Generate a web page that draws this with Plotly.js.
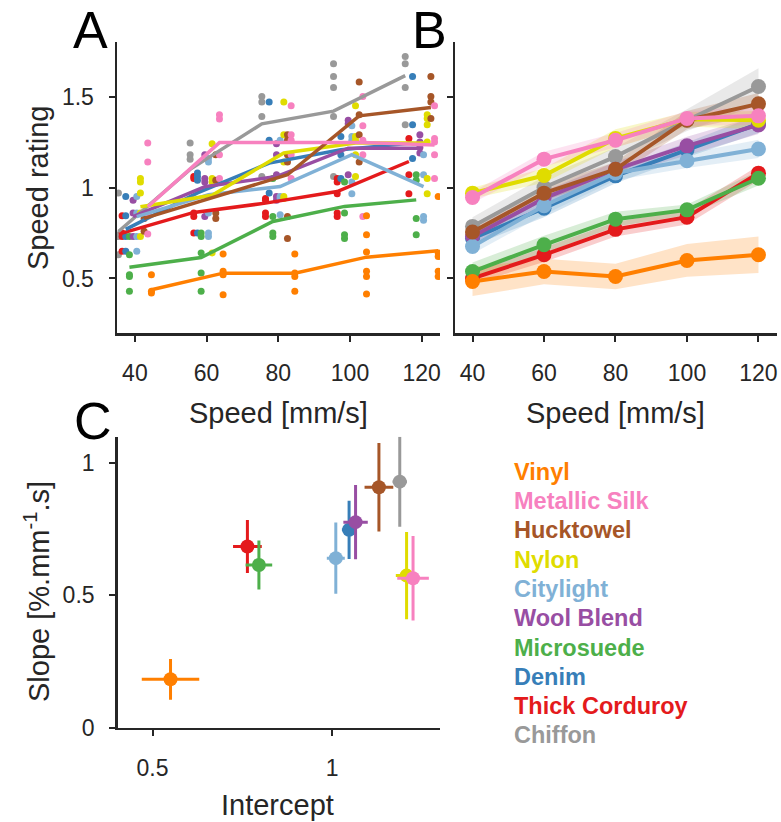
<!DOCTYPE html>
<html>
<head>
<meta charset="utf-8">
<script src="https://cdn.plot.ly/plotly-3.0.1.min.js"></script>
<style>html,body{margin:0;padding:0;background:#fff;}#chart{width:781px;height:822px;}</style>
</head>
<body>
<div id="chart"></div>
<script>
// ---------- categories ----------
const speeds = [40, 60, 80, 100, 120];
const fabrics = ['Vinyl','Metallic Silk','Hucktowel','Nylon','Citylight','Wool Blend','Microsuede','Denim','Thick Corduroy','Chiffon'];
const colors = ['#ff7f00','#f781bf','#a65628','#e0dc00','#80b1d6','#984ea3','#4daf4a','#377eb8','#e41a1c','#999999'];

// ---------- Panel A: individual ratings (per speed) ----------
const dotsVinyl        = [[0.52,0.43,0.42],[0.635,0.54,0.52,0.41],[0.634,0.53,0.51,0.43],[0.845,0.74,0.645,0.54,0.51,0.415],[0.95,0.64,0.62,0.54,0.51]];
const dotsMetallicSilk = [[1.244,1.14,0.86,0.745],[1.40,1.376,1.18,1.05],[1.45,1.29,1.26,1.18,1.05],[1.50,1.34,1.26,1.18,0.84],[1.45,1.27,1.25,1.18,1.05]];
const dotsHucktowel    = [[0.86,0.83,0.76],[1.18,1.04,0.86,0.83],[1.29,1.26,1.18,1.14,0.84,0.72],[1.58,1.40,1.29,1.14],[1.61,1.50,1.47,1.38]];
const dotsNylon        = [[1.05,1.03,0.97,0.86,0.73],[1.24,1.05,1.03,0.64],[1.47,1.29,1.14,0.95,0.94],[1.45,1.28,1.26,1.18,1.06],[1.40,1.38,1.345,1.25,1.05,0.965]];
const dotsCitylight    = [[0.95,0.86,0.73,0.65],[1.16,1.14,0.86,0.75,0.73],[1.26,0.95,0.94,0.85],[1.34,1.28,1.26,1.03,0.965],[1.18,1.07,0.84,0.82]];
const dotsWoolBlend    = [[0.93,0.86,0.73],[1.18,1.05,1.03,0.84],[1.24,1.18,1.07,0.95,0.93],[1.37,1.35,1.07],[1.29,1.25,1.22,1.19]];
const dotsMicrosuede   = [[0.73,0.63,0.52,0.51,0.43],[0.75,0.73,0.64,0.53,0.43],[1.05,0.84,0.75,0.73],[1.03,0.86,0.74,0.72],[1.07,1.04,0.83,0.74]];
const dotsDenim        = [[0.95,0.845,0.73,0.65],[1.08,1.06,1.04,0.75],[1.47,1.26,0.97],[1.28,1.18,1.05],[1.61,1.345,1.16]];
const dotsCorduroy     = [[0.845,0.75,0.73,0.65],[1.06,1.05,0.86,0.84,0.75],[0.94,0.93,0.86,0.84],[1.05,1.03,0.965,0.86,0.84],[1.27,1.07,0.965]];
const dotsChiffon      = [[0.97,0.74,0.73,0.63],[1.244,1.18,1.156],[1.50,1.47,1.39,1.06],[1.68,1.61,1.55,1.39,1.06],[1.72,1.68,1.55,1.345]];

// ---------- Panel A: summary lines ----------
const aVinyl        = [0.438, 0.529, 0.529, 0.617, 0.652];
const aMetallicSilk = [0.894, 1.247, 1.247, 1.247, 1.234];
const aHucktowel    = [0.83, 0.95, 1.07, 1.394, 1.44];
const aNylon        = [0.894, 0.957, 1.19, 1.244, 1.244];
const aCitylight    = [0.84, 0.96, 1.005, 1.18, 1.005];
const aWoolBlend    = [0.84, 1.005, 1.06, 1.216, 1.216];
const aMicrosuede   = [0.562, 0.615, 0.813, 0.896, 0.932];
const aDenim        = [0.77, 0.97, 1.134, 1.207, 1.244];
const aCorduroy     = [0.749, 0.863, 0.914, 0.978, 1.143];
const aChiffon      = [0.758, 1.10, 1.35, 1.42, 1.615];

// ---------- Panel B: means and CI half-widths ----------
const bVinyl        = [0.483, 0.538, 0.511, 0.599, 0.63];
const bMetallicSilk = [0.945, 1.156, 1.26, 1.38, 1.394];
const bHucktowel    = [0.755, 0.969, 1.10, 1.37, 1.46];
const bNylon        = [0.969, 1.066, 1.27, 1.375, 1.37];
const bCitylight    = [0.676, 0.90, 1.08, 1.147, 1.212];
const bWoolBlend    = [0.73, 0.94, 1.10, 1.229, 1.344];
const bMicrosuede   = [0.538, 0.685, 0.826, 0.877, 1.051];
const bDenim        = [0.72, 0.886, 1.064, 1.207, 1.35];
const bCorduroy     = [0.50, 0.63, 0.77, 0.837, 1.079];
const bChiffon      = [0.786, 1.0, 1.17, 1.37, 1.555];

const ciVinyl        = [0.08, 0.07, 0.07, 0.09, 0.10];
const ciMetallicSilk = [0.03, 0.04, 0.04, 0.04, 0.05];
const ciHucktowel    = [0.04, 0.04, 0.04, 0.05, 0.06];
const ciNylon        = [0.03, 0.04, 0.05, 0.04, 0.05];
const ciCitylight    = [0.04, 0.05, 0.04, 0.04, 0.05];
const ciWoolBlend    = [0.04, 0.04, 0.04, 0.05, 0.05];
const ciMicrosuede   = [0.05, 0.05, 0.04, 0.03, 0.04];
const ciDenim        = [0.04, 0.05, 0.04, 0.04, 0.05];
const ciCorduroy     = [0.03, 0.04, 0.04, 0.04, 0.04];
const ciChiffon      = [0.05, 0.06, 0.05, 0.06, 0.10];

// ---------- Panel C: fit parameters ----------
const cIntercept    = [0.55, 1.225, 1.13, 1.207, 1.010, 1.065, 0.796, 1.047, 0.764, 1.188];
const cInterceptErr = [0.08, 0.044, 0.04, 0.03, 0.025, 0.034, 0.037, 0.02, 0.04, 0.02];
const cSlope        = [0.183, 0.565, 0.909, 0.575, 0.641, 0.777, 0.615, 0.748, 0.685, 0.930];
const cSlopeErr     = [0.077, 0.16, 0.167, 0.165, 0.135, 0.14, 0.093, 0.11, 0.10, 0.17];

// ---------- assemble ----------
const dots = [dotsVinyl, dotsMetallicSilk, dotsHucktowel, dotsNylon, dotsCitylight, dotsWoolBlend, dotsMicrosuede, dotsDenim, dotsCorduroy, dotsChiffon];
const aLines = [aVinyl, aMetallicSilk, aHucktowel, aNylon, aCitylight, aWoolBlend, aMicrosuede, aDenim, aCorduroy, aChiffon];
const bMeans = [bVinyl, bMetallicSilk, bHucktowel, bNylon, bCitylight, bWoolBlend, bMicrosuede, bDenim, bCorduroy, bChiffon];
const bCis = [ciVinyl, ciMetallicSilk, ciHucktowel, ciNylon, ciCitylight, ciWoolBlend, ciMicrosuede, ciDenim, ciCorduroy, ciChiffon];

function rgba(hex, a) {
  const r = parseInt(hex.slice(1,3),16), g = parseInt(hex.slice(3,5),16), b = parseInt(hex.slice(5,7),16);
  return 'rgba(' + r + ',' + g + ',' + b + ',' + a + ')';
}
const n = fabrics.length;
const dodge = i => 4.6 - i * (9.2 / (n - 1));
const order = [];
for (let i = n - 1; i >= 0; i--) order.push(i);

const traces = [];
// Panel A dots
order.forEach(i => {
  const xs = [], ys = [];
  speeds.forEach((s, k) => dots[i][k].forEach(v => { xs.push(s + dodge(i)); ys.push(v); }));
  traces.push({x: xs, y: ys, type: 'scatter', mode: 'markers', xaxis: 'x', yaxis: 'y',
    marker: {color: colors[i], size: 7}, hoverinfo: 'skip', showlegend: false});
});
// Panel A lines
order.forEach(i => {
  traces.push({x: speeds.map(s => s + dodge(i)), y: aLines[i], type: 'scatter', mode: 'lines',
    xaxis: 'x', yaxis: 'y', line: {color: colors[i], width: 3.5}, showlegend: false, name: fabrics[i]});
});
// Panel B bands
order.forEach(i => {
  const up = bMeans[i].map((v, k) => v + bCis[i][k]);
  const lo = bMeans[i].map((v, k) => v - bCis[i][k]);
  traces.push({x: speeds, y: up, type: 'scatter', mode: 'lines', xaxis: 'x2', yaxis: 'y2',
    line: {width: 0, color: 'rgba(0,0,0,0)'}, hoverinfo: 'skip', showlegend: false});
  traces.push({x: speeds, y: lo, type: 'scatter', mode: 'lines', xaxis: 'x2', yaxis: 'y2', fill: 'tonexty',
    fillcolor: rgba(colors[i], 0.22), line: {width: 0, color: 'rgba(0,0,0,0)'}, hoverinfo: 'skip', showlegend: false});
});
// Panel B means
order.forEach(i => {
  traces.push({x: speeds, y: bMeans[i], type: 'scatter', mode: 'lines+markers', xaxis: 'x2', yaxis: 'y2',
    line: {color: colors[i], width: 4}, marker: {color: colors[i], size: 15}, showlegend: false, name: fabrics[i]});
});
// Panel C
order.forEach(i => {
  traces.push({x: [cIntercept[i]], y: [cSlope[i]], type: 'scatter', mode: 'markers', xaxis: 'x3', yaxis: 'y3',
    marker: {color: colors[i], size: 14},
    error_x: {type: 'data', array: [cInterceptErr[i]], color: colors[i], thickness: 3, width: 0},
    error_y: {type: 'data', array: [cSlopeErr[i]], color: colors[i], thickness: 3, width: 0},
    showlegend: false, name: fabrics[i]});
});

const W = 781, H = 822;
const px = v => v / W, py = v => 1 - v / H;
const font = 'Liberation Sans, Arial, Helvetica, sans-serif';
const axisCol = '#262626';
const baseAxis = {
  showline: true, linecolor: axisCol, linewidth: 2.5, showgrid: false, zeroline: false,
  ticks: 'outside', ticklen: 6, tickwidth: 2, tickcolor: axisCol,
  tickfont: {family: font, size: 23, color: axisCol}, fixedrange: true
};

const annotations = [];
function ann(text, x, y, size, opts) {
  annotations.push(Object.assign({text: text, x: px(x), y: py(y), xref: 'paper', yref: 'paper',
    showarrow: false, xanchor: 'center', yanchor: 'middle',
    font: {family: font, size: size, color: axisCol}}, opts || {}));
}
ann('A', 90, 30, 52, {font: {family: font, size: 52, color: '#000'}});
ann('B', 429, 30, 52, {font: {family: font, size: 52, color: '#000'}});
ann('C', 93, 421, 52, {font: {family: font, size: 52, color: '#000'}});
ann('Speed rating', 38, 188, 29, {textangle: -90});
ann('Speed [mm/s]', 278, 413, 29);
ann('Speed [mm/s]', 615, 413, 29);
ann('Slope [%.mm<sup>-1</sup>.s]', 37, 592, 29, {textangle: -90});
ann('Intercept', 277, 805, 29);
fabrics.forEach((f, i) => {
  annotations.push({text: '<b>' + f + '</b>', x: px(512), y: py(471.7 + i * 29.3), xref: 'paper', yref: 'paper',
    showarrow: false, xanchor: 'left', yanchor: 'middle', font: {family: font, size: 23.5, color: colors[i]}});
});

const layout = {
  width: W, height: H, margin: {l: 0, r: 0, t: 0, b: 0}, paper_bgcolor: '#fff', plot_bgcolor: '#fff',
  showlegend: false,
  xaxis: Object.assign({}, baseAxis, {domain: [px(117), px(440)], range: [35, 125.1], anchor: 'y',
    tickvals: speeds, ticktext: speeds.map(String), ticklabelstandoff: 12}),
  yaxis: Object.assign({}, baseAxis, {domain: [py(333), py(42)], range: [0.2, 1.8], anchor: 'x',
    tickvals: [0.5, 1, 1.5], ticktext: ['0.5', '1', '1.5'], ticklabelstandoff: 10}),
  xaxis2: Object.assign({}, baseAxis, {domain: [px(455), px(776.7)], range: [35.1, 125.1], anchor: 'y2',
    tickvals: speeds, ticktext: speeds.map(String), ticklabelstandoff: 12}),
  yaxis2: Object.assign({}, baseAxis, {domain: [py(333), py(42)], range: [0.2, 1.8], anchor: 'x2',
    tickvals: [0.5, 1, 1.5], showticklabels: false}),
  xaxis3: Object.assign({}, baseAxis, {domain: [px(117.7), px(440)], range: [0.403, 1.30], anchor: 'y3',
    tickvals: [0.5, 1], ticktext: ['0.5', '1'], ticklabelstandoff: 12}),
  yaxis3: Object.assign({}, baseAxis, {domain: [py(727.7), py(436.7)], range: [0, 1.1], anchor: 'x3',
    tickvals: [0, 0.5, 1], ticktext: ['0', '0.5', '1'], ticklabelstandoff: 10}),
  annotations: annotations
};

Plotly.newPlot('chart', traces, layout, {displayModeBar: false, staticPlot: true});
</script>
</body>
</html>
